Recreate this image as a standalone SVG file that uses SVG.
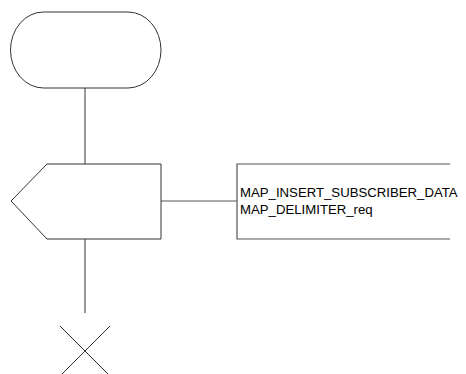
<svg xmlns="http://www.w3.org/2000/svg" width="466" height="374" viewBox="0 0 466 374">
<style>
.shape{fill:#ffffff;stroke:#333333;stroke-width:1}
.conn{fill:none;stroke:#555555;stroke-width:1.2}
.lbl{font-family:"Liberation Sans",Arial,sans-serif;font-size:13.2px;fill:#000000}
</style>
<rect width="466" height="374" fill="#ffffff"/>
<g id="connectors">
<line class="conn" x1="85" y1="88" x2="85" y2="164"/>
<line class="conn" x1="161" y1="201" x2="237" y2="201"/>
<line class="conn" x1="85" y1="239" x2="85" y2="313"/>
</g>
<g id="start">
<rect class="shape" x="10.5" y="12" width="150.5" height="76" rx="33" ry="38"/>
</g>
<g id="signal">
<polygon class="shape" points="47,164 161,164 161,239 47,239 11,201"/>
</g>
<g id="message">
<path class="conn" d="M450,164 H237 V239 H450"/>
<text class="lbl" x="240" y="197">MAP_INSERT_SUBSCRIBER_DATA</text>
<text class="lbl" x="240" y="213.5">MAP_DELIMITER_req</text>
</g>
<g id="stop">
<line class="shape" x1="60" y1="326" x2="110" y2="376"/>
<line class="shape" x1="110" y1="326" x2="60" y2="376"/>
</g>
</svg>
